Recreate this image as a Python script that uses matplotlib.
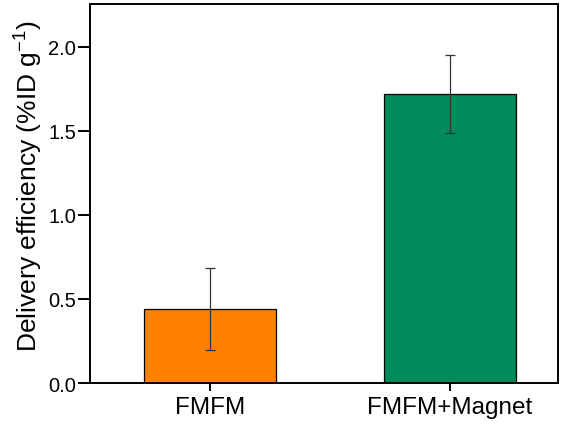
import matplotlib.pyplot as plt
import numpy as np

plt.rcParams['font.family'] = ['Liberation Sans', 'DejaVu Sans']

groups = ['FMFM', 'FMFM+Magnet']
efficiency = [0.44, 1.72]
err = [0.243, 0.23]
colors = ['#FF8000', '#008B5E']

fig = plt.figure(figsize=(5.62, 4.27), dpi=100)
ax = fig.add_axes([0.160, 0.1007, 0.833, 0.8875])

x = np.arange(len(groups))
ax.bar(x, efficiency, width=0.55, color=colors, edgecolor='black', linewidth=0.9,
       yerr=err, error_kw=dict(ecolor='#333333', elinewidth=0.9, capsize=3.5, capthick=0.9))

ax.set_xlim(-0.5, 1.45)
ax.set_ylim(0, 2.255)
ax.set_yticks([0.0, 0.5, 1.0, 1.5, 2.0])
ax.set_yticklabels(['0.0', '0.5', '1.0', '1.5', '2.0'])
ax.set_xticks(x)
ax.set_xticklabels(groups, fontsize=17.5)
ax.tick_params(axis='y', labelsize=14.5, length=9, width=1.4, direction='out', pad=1)
ax.tick_params(axis='x', length=6, width=1.4, direction='out', pad=3)
for s in ax.spines.values():
    s.set_linewidth(1.4)

ax.set_ylabel('Delivery efficiency (%ID g$^{\\mathregular{-1}}$)', fontsize=19)
ax.yaxis.set_label_coords(-0.098, 0.522)

fig.savefig('out.png', dpi=100)
